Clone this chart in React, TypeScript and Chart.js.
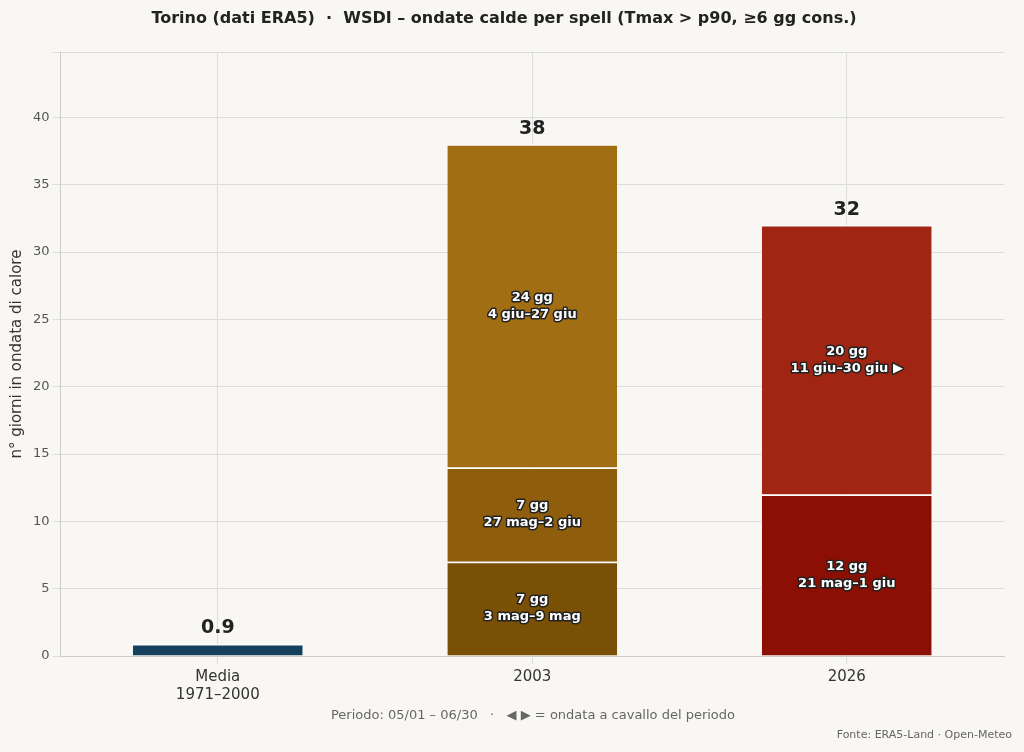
import React, { useEffect, useRef } from "react";
import { Chart, registerables } from "chart.js";
Chart.register(...registerables);

const categories = [["Media", "1971–2000"], "2003", "2026"];
const seg1 = [0.9, 7, 12];
const seg2 = [0, 7, 20];
const seg3 = [0, 24, 0];
const totals = [0.9, 38, 32];
const seg1Labels = ["", "7 gg\n3 mag–9 mag", "12 gg\n21 mag–1 giu"];
const seg2Labels = ["", "7 gg\n27 mag–2 giu", "20 gg\n11 giu–30 giu ▶"];
const seg3Labels = ["", "24 gg\n4 giu–27 giu", ""];
const seg1Colors = ["#15415e", "#7a5006", "#8b0f03"];
const seg2Colors = ["#15415e", "#8e5e0c", "#a02513"];
const seg3Colors = ["#15415e", "#a26e14", "#a02513"];

const FONT = "'DejaVu Sans', sans-serif";

export default function App() {
  const ref = useRef<HTMLCanvasElement>(null);
  useEffect(() => {
    document.body.style.margin = "0";
    document.body.style.background = "#f9f7f3";
    const labelSets = [seg1Labels, seg2Labels, seg3Labels];
    const plugin = {
      id: "labels",
      beforeDraw(c: any) {
        const ctx = c.ctx;
        ctx.save();
        ctx.fillStyle = "#f9f7f3";
        ctx.fillRect(0, 0, c.width, c.height);
        ctx.restore();
      },
      afterDatasetsDraw(c: any) {
        const ctx = c.ctx;
        ctx.save();
        ctx.textAlign = "center";
        ctx.textBaseline = "middle";
        labelSets.forEach((labs, di) => {
          const meta = c.getDatasetMeta(di);
          meta.data.forEach((bar: any, i: number) => {
            if (!labs[i]) return;
            const lines = labs[i].split("\n");
            const cy = (bar.y + bar.base) / 2;
            ctx.font = `bold 13px ${FONT}`;
            lines.forEach((l: string, k: number) => {
              const y = cy + (k - (lines.length - 1) / 2) * 17;
              ctx.lineWidth = 3;
              ctx.strokeStyle = "#222";
              ctx.lineJoin = "round";
              ctx.strokeText(l, bar.x, y);
              ctx.fillStyle = "#fff";
              ctx.fillText(l, bar.x, y);
            });
          });
        });
        const ys = c.scales.y;
        const meta0 = c.getDatasetMeta(0);
        ctx.font = `bold 19px ${FONT}`;
        ctx.fillStyle = "#222";
        ctx.textBaseline = "bottom";
        totals.forEach((t, i) => {
          ctx.fillText(String(t), meta0.data[i].x, ys.getPixelForValue(t) - 6);
        });
        ctx.font = `13px ${FONT}`;
        ctx.fillStyle = "#666";
        ctx.textBaseline = "middle";
        ctx.fillText("Periodo: 05/01 – 06/30   ·   ◀ ▶ = ondata a cavallo del periodo", 533, 716);
        ctx.font = `11px ${FONT}`;
        ctx.textAlign = "right";
        ctx.fillText("Fonte: ERA5-Land · Open-Meteo", 1012, 735);
        ctx.restore();
      },
    };
    const mk = (data: number[], colors: string[]) => ({
      data,
      backgroundColor: colors,
      borderColor: "#ffffff",
      borderWidth: { top: 1.5, bottom: 0, left: 0, right: 0 },
      borderSkipped: false,
      barPercentage: 0.54,
      categoryPercentage: 1,
    });
    const chart = new Chart(ref.current!, {
      type: "bar",
      data: {
        labels: categories as any,
        datasets: [mk(seg1, seg1Colors), mk(seg2, seg2Colors), mk(seg3, seg3Colors)] as any,
      },
      options: {
        animation: false,
        responsive: false,
        layout: { padding: { left: 4, right: 20, top: 0, bottom: 44 } },
        plugins: {
          legend: { display: false },
          tooltip: { enabled: false },
          title: {
            display: true,
            text: "Torino (dati ERA5)  ·  WSDI – ondate calde per spell (Tmax > p90, ≥6 gg cons.)",
            color: "#222",
            font: { family: FONT, size: 16, weight: "bold" },
            padding: { top: 9, bottom: 24 },
          },
        },
        scales: {
          x: {
            stacked: true,
            grid: { color: "#dddddd", offset: false },
            border: { color: "#cccccc" },
            ticks: { color: "#333", font: { family: FONT, size: 15 }, padding: 4 },
          },
          y: {
            stacked: true,
            min: 0,
            max: 44.84,
            grid: { color: "#dddddd" },
            border: { color: "#cccccc" },
            ticks: {
              stepSize: 5,
              color: "#555",
              font: { family: FONT, size: 13 },
              callback: (v: any) => (v % 5 === 0 && v <= 40 ? String(v) : ""),
            },
            title: {
              display: true,
              text: "n° giorni in ondata di calore",
              color: "#333",
              font: { family: FONT, size: 15 },
            },
          },
        },
      },
      plugins: [plugin],
    });
    return () => chart.destroy();
  }, []);
  return <canvas ref={ref} width={1024} height={752} style={{ display: "block" }} />;
}
